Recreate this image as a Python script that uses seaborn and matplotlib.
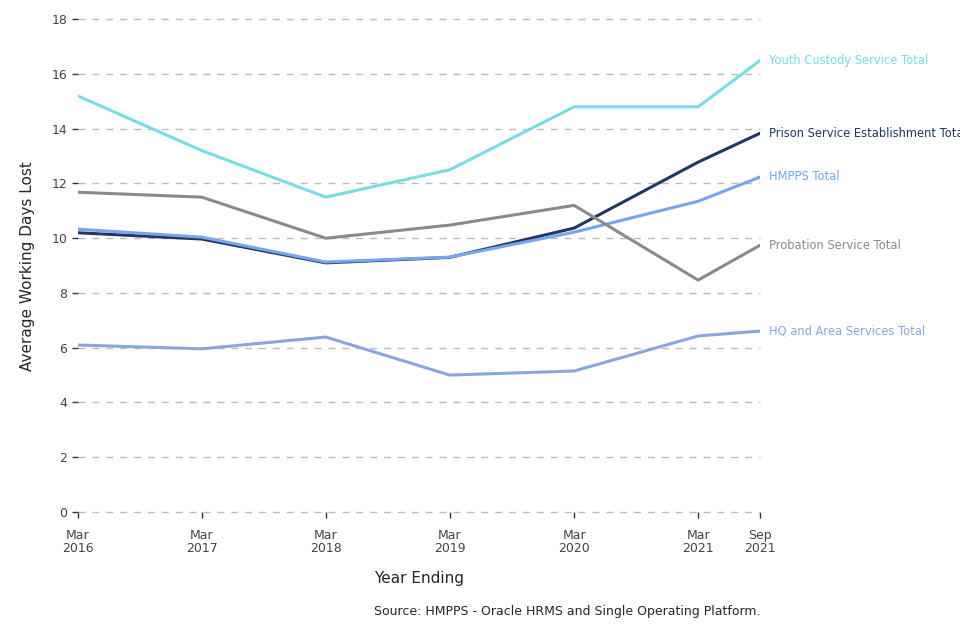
import pandas as pd
import numpy as np
import matplotlib
matplotlib.use("Agg")
import matplotlib.pyplot as plt
import seaborn as sns

periods = ["2016-03-31", "2017-03-31", "2018-03-31", "2019-03-31",
           "2020-03-31", "2021-03-31", "2021-09-30"]
tick_labels = ["Mar\n2016", "Mar\n2017", "Mar\n2018", "Mar\n2019",
               "Mar\n2020", "Mar\n2021", "Sep\n2021"]

youth_custody = [15.2, 13.2, 11.5, 12.5, 14.8, 14.8, 16.5]
prison_establishment = [10.2, 9.97, 9.1, 9.3, 10.37, 12.78, 13.84]
hmpps = [10.33, 10.04, 9.13, 9.31, 10.22, 11.35, 12.24]
probation = [11.68, 11.5, 10.0, 10.48, 11.2, 8.47, 9.75]
hq_area = [6.1, 5.96, 6.39, 5.0, 5.15, 6.43, 6.61]

series_names = ["Youth Custody Service Total", "Prison Service Establishment Total",
                "HMPPS Total", "Probation Service Total", "HQ and Area Services Total"]
colors = ["#76dde2", "#22365f", "#75a6f0", "#8a8a8a", "#8aa6dc"]

values = [youth_custody, prison_establishment, hmpps, probation, hq_area]
df = pd.concat([
    pd.DataFrame({"period": pd.to_datetime(periods), "days": v, "series": name})
    for name, v in zip(series_names, values)
])

sns.set_style("white")
plt.rcParams['font.family'] = ['DejaVu Sans']

fig = plt.figure(figsize=(9.6, 6.4), dpi=100)
ax = fig.add_axes([0.081, 0.2, 0.711, 0.77])

sns.lineplot(data=df, x="period", y="days", hue="series", palette=colors,
             hue_order=series_names, linewidth=2.2, legend=False, ax=ax)

ax.set_ylim(0, 18)
ax.set_yticks(np.arange(0, 19, 2))
dates = pd.to_datetime(periods)
ax.set_xlim(dates[0], dates[-1])
ax.set_xticks(dates)
ax.set_xticklabels(tick_labels, linespacing=1.0)

ax.grid(axis="y", linestyle=(0, (5, 5)), color="#bbbbbb", linewidth=1)
ax.grid(axis="x", visible=False)
for gl in ax.get_ygridlines():
    gl.set_clip_on(False)
ax.set_axisbelow(True)
sns.despine(ax=ax, left=True, bottom=True)
ax.tick_params(axis="both", length=4, width=1, color="#333333",
               labelcolor="#444444", labelsize=9, left=True, bottom=True)
ax.tick_params(axis="x", pad=8)

ax.set_xlabel("Year Ending", fontsize=11, labelpad=12)
ax.set_ylabel("Average Working Days Lost", fontsize=11, labelpad=12)

for name, v, c in zip(series_names, values, colors):
    ax.annotate(name, xy=(dates[-1], v[-1]), xytext=(6, 0),
                textcoords="offset points", color=c, fontsize=8.3,
                va="center", ha="left", annotation_clip=False)

fig.text(0.792, 0.044, "Source: HMPPS - Oracle HRMS and Single Operating Platform.",
         ha="right", va="center", fontsize=9)

fig.savefig("out.png", dpi=100)
